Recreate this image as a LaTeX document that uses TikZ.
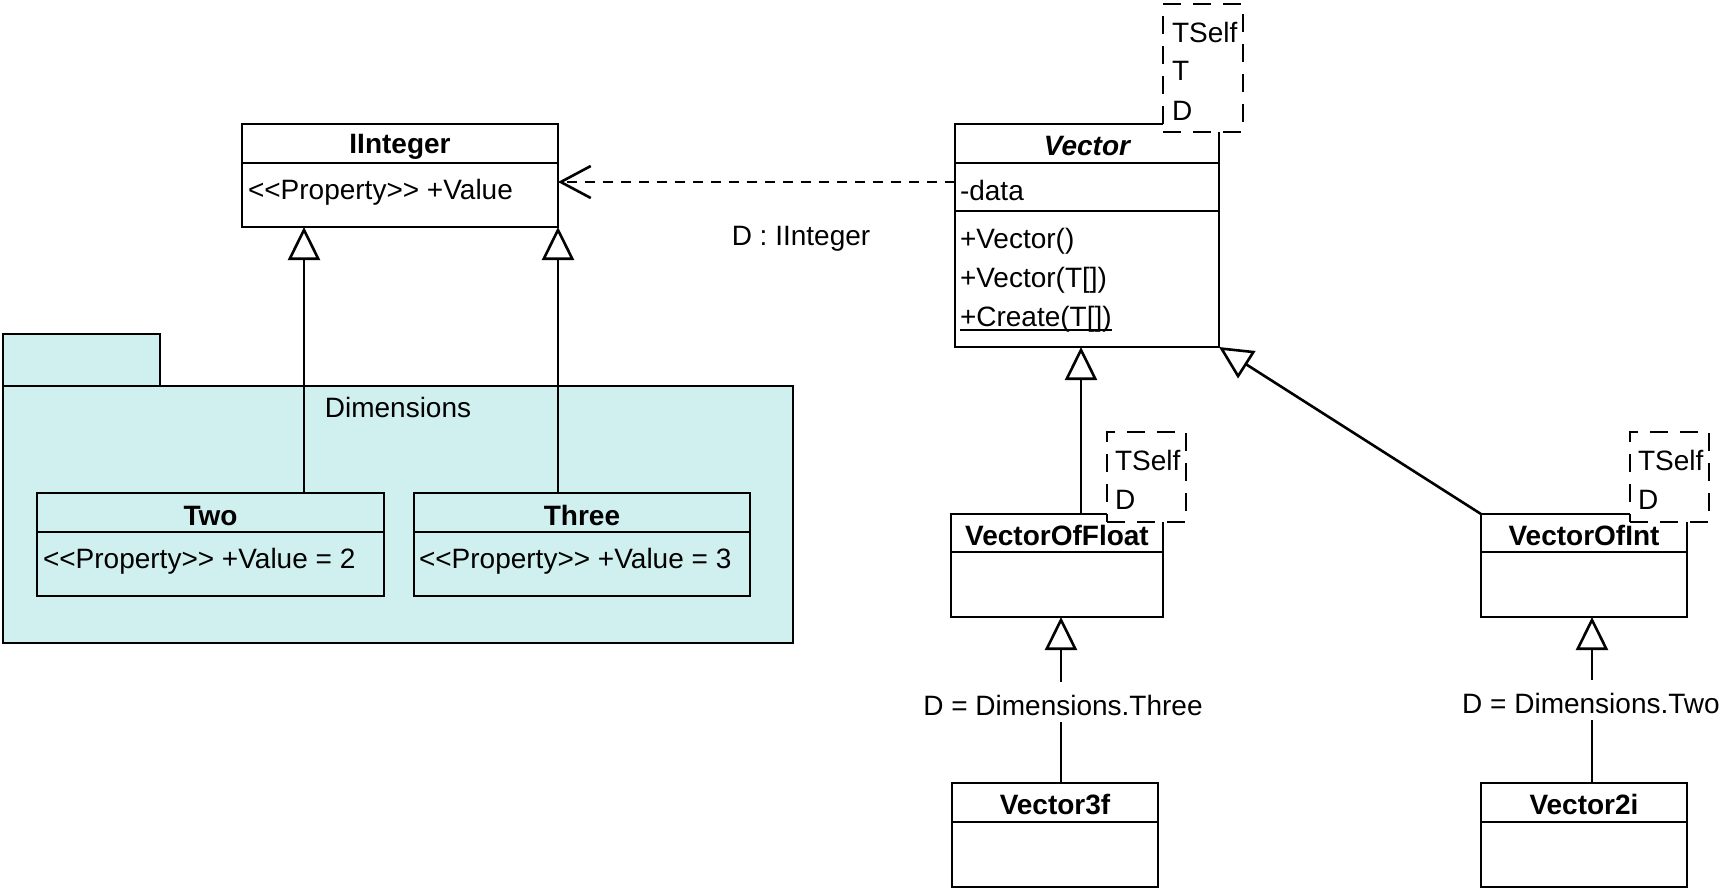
\documentclass[tikz,border=0pt]{standalone}
\usepackage{fontspec}
\setmainfont{Liberation Sans}
\usetikzlibrary{arrows.meta,fit}
\definecolor{pkgfill}{RGB}{208,240,240}
\begin{document}
\begin{tikzpicture}[x=0.5pt,y=-0.5pt,
  every node/.style={inner sep=0pt,outer sep=0pt},
  lw/.style={line width=1.3pt},
  cls/.style={draw,line width=1.3pt,inner sep=0pt,fit={#1}},
  tmpl/.style={draw,fill=white,line width=1.3pt,dash pattern=on 9pt off 6pt,inner sep=0pt,fit={#1}},
  txt/.style={font=\fontsize{14}{16}\selectfont,anchor=base west},
  ctxt/.style={font=\fontsize{14}{16}\selectfont,anchor=base},
  btxt/.style={font=\fontsize{14}{16}\selectfont\bfseries,anchor=base},
  gen/.style={lw,-{Triangle[fill=white,length=16.5pt,width=16pt]}},
  dep/.style={lw,dash pattern=on 5pt off 4pt,-{Straight Barb[length=15pt,width=16pt]}},
  lab/.style={font=\fontsize{14}{16}\selectfont,anchor=base,text height=16.5pt,text depth=3.5pt}
]
\useasboundingbox (0,0) rectangle (1725,891);

% ---------- package Dimensions ----------
\node[draw,fill=pkgfill,lw,fit={(3,334)(160,386)}] (tab) {};
\node[draw,fill=pkgfill,lw,fit={(3,386)(793,643)}] (pkg) {};
\node[ctxt] (pkgname) at (398,417) {Dimensions};

% ---------- IInteger ----------
\node[cls={(242,124)(558,227)}] (ii) {};
\draw[lw] (ii.west |- 0,163) -- (ii.east |- 0,163);
\node[btxt] (iit) at (400,153) {IInteger};
\node[txt] (iia) at (248,199) {<{}<Property>{}> +Value};

% ---------- Two / Three ----------
\coordinate (x1) at (304,0);
\coordinate (x2) at (558,0);
\node[cls={(37,493)(384,596)}] (two) {};
\draw[lw] (two.west |- 0,532) -- (two.east |- 0,532);
\node[btxt] (twot) at (210.5,525) {Two};
\node[txt] (twoa) at (43,568) {<{}<Property>{}> +Value = 2};
\node[cls={(414,493)(750,596)}] (three) {};
\draw[lw] (three.west |- 0,532) -- (three.east |- 0,532);
\node[btxt] (threet) at (582,525) {Three};
\node[txt] (threea) at (419,568) {<{}<Property>{}> +Value = 3};
\draw[gen] (two.north -| x1) -- (ii.south -| x1);
\draw[gen] (three.north -| x2) -- (ii.south -| x2);

% ---------- Vector ----------
\node[cls={(955,124)(1219,347)}] (vec) {};
\draw[lw] (vec.west |- 0,163) -- (vec.east |- 0,163);
\draw[lw] (vec.west |- 0,211) -- (vec.east |- 0,211);
\node[btxt,font=\fontsize{14}{16}\selectfont\bfseries\itshape] (vect) at (1087,155) {Vector};
\node[txt] (vdata) at (960,200) {-data};
\node[txt] (vm1) at (960,248) {+Vector()};
\node[txt] (vm2) at (960,287) {+Vector(T[])};
\node[txt] (vm3) at (960,326) {+Create(T[])};
\draw[line width=0.8pt] ([yshift=-2pt]vm3.base west) -- ([yshift=-2pt]vm3.base east);
\node[tmpl={(1163,4)(1243,132)}] (vtp) {};
\node[txt] (vtp1) at (1172,42) {TSelf};
\node[txt] (vtp2) at (1172,80) {T};
\node[txt] (vtp3) at (1172,120) {D};

% dependency
\coordinate (dy) at (0,182);
\draw[dep] (vec.west |- dy) -- (ii.east |- dy);
\node[ctxt] (deplab) at (801,245) {D : IInteger};

% ---------- VectorOfFloat ----------
\node[cls={(951,514)(1163,617)}] (vof) {};
\draw[lw] (vof.west |- 0,552) -- (vof.east |- 0,552);
\node[btxt] (voft) at (1057,545) {VectorOfFloat};
\node[tmpl={(1107,432)(1186,522)}] (voftp) {};
\node[txt] (voftp1) at (1115,470) {TSelf};
\node[txt] (voftp2) at (1115,509) {D};

% ---------- VectorOfInt ----------
\node[cls={(1481,514)(1687,617)}] (voi) {};
\draw[lw] (voi.west |- 0,552) -- (voi.east |- 0,552);
\node[btxt] (voit) at (1584,545) {VectorOfInt};
\node[tmpl={(1630,432)(1709,522)}] (voitp) {};
\node[txt] (voitp1) at (1638,470) {TSelf};
\node[txt] (voitp2) at (1638,509) {D};

\coordinate (x3) at (1081,0);
\draw[gen] (vof.north -| x3) -- (vec.south -| x3);
\draw[gen] (voi.north west) -- (vec.south east);

% ---------- Vector3f / Vector2i ----------
\node[cls={(952,783)(1158,887)}] (v3f) {};
\draw[lw] (v3f.west |- 0,822) -- (v3f.east |- 0,822);
\node[btxt] (v3ft) at (1055,814) {Vector3f};
\node[cls={(1481,783)(1687,887)}] (v2i) {};
\draw[lw] (v2i.west |- 0,822) -- (v2i.east |- 0,822);
\node[btxt] (v2it) at (1584,814) {Vector2i};

\coordinate (x5) at (1061,0);
\coordinate (x6) at (1592,0);
\node[lab] (lab3) at (1063,715) {D = Dimensions.Three};
\node[lab] (lab2) at (1591,713) {D = Dimensions.Two};
\draw[lw] (v3f.north -| x5) -- (lab3.south -| x5);
\draw[gen] (lab3.north -| x5) -- (vof.south -| x5);
\draw[lw] (v2i.north -| x6) -- (lab2.south -| x6);
\draw[gen] (lab2.north -| x6) -- (voi.south -| x6);
\end{tikzpicture}
\end{document}
